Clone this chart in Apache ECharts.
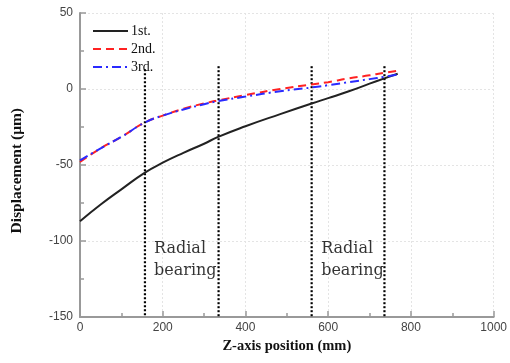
<!DOCTYPE html>
<html><head><meta charset="utf-8">
<script src="https://cdn.jsdelivr.net/npm/echarts@6/dist/echarts.min.js"></script>
<style>html,body{margin:0;padding:0;background:#fff}#c{width:510px;height:363px}</style>
</head><body><div id="c"></div>
<script>
var positions = [0, 50, 100, 157, 200, 250, 300, 334, 400, 484, 560, 600, 650, 700, 736, 768];
var first  = [-87, -76, -66, -55, -48.5, -42, -36, -31.5, -24.5, -16.5, -9.5, -6, -1.5, 3.5, 7, 10];
var second = [-48, -39, -31.5, -22, -17.5, -13, -9.5, -7.5, -4, 0, 3, 4.5, 7, 9, 10.7, 12];
var third  = [-47, -39, -31.5, -22, -17.5, -13.5, -10, -8, -5, -1.5, 1, 2.5, 4.5, 6.5, 8, 9.5];
var seriesNames = ['1st.', '2nd.', '3rd.'];
var bearingX = [157, 335, 560, 736];
var bearingTop = [13, 15, 15, 15];
var bearingBottom = -150;
var labelPoints = [[179, -98], [583, -98]];
var labelText = 'Radial\nbearing';
var xTitle = 'Z-axis position (mm)';
var yTitle = 'Displacement (μm)';

function pairs(xs, ys){ return xs.map(function(x,i){ return [x, ys[i]]; }); }

var series = [
  {name: seriesNames[0], type:'line', data: pairs(positions, first), smooth:true, symbol:'none',
   lineStyle:{color:'#222', width:2, type:'solid'}, itemStyle:{color:'#222'}, z:5},
  {name: seriesNames[1], type:'line', data: pairs(positions, second), smooth:true, symbol:'none',
   lineStyle:{color:'#ff2222', width:2, type:[8,5]}, itemStyle:{color:'#ff2222'}, z:5},
  {name: seriesNames[2], type:'line', data: pairs(positions, third), smooth:true, symbol:'none',
   lineStyle:{color:'#2a2aff', width:2, type:[9,4,2,4]}, itemStyle:{color:'#2a2aff'}, z:6}
];
bearingX.forEach(function(x, i){
  series.push({type:'line', data:[[x, bearingTop[i]], [x, bearingBottom]], symbol:'none', silent:true,
    lineStyle:{color:'#000', width:2.2, type:[2,2]}, z:4});
});
series.push({type:'scatter', data: labelPoints, symbolSize:0, silent:true,
  label:{show:true, formatter: labelText, position:[0,0], align:'left', verticalAlign:'top',
    fontFamily:'DejaVu Serif', fontSize:16, lineHeight:22, color:'#000'}});

var chart = echarts.init(document.getElementById('c'), null, {renderer:'canvas'});
chart.setOption({
  animation:false,
  backgroundColor:'#fff',
  grid:{left:80, right:16, top:13, bottom:46},
  legend:{data: seriesNames,
    orient:'vertical', left:87, top:19, itemWidth:35, itemHeight:14, itemGap:4,
    itemStyle:{opacity:0, borderWidth:0},
    textStyle:{fontFamily:'Liberation Serif', fontSize:14, color:'#111', padding:[0,0,0,-2]}},
  graphic:[{type:'text', left:9, top:108, rotation:Math.PI/2,
    style:{text:yTitle, font:'bold 15.5px "Liberation Serif"', fill:'#111'}}],
  xAxis:{type:'value', min:0, max:1000, interval:200,
    name:xTitle, nameLocation:'middle', nameGap:21,
    nameTextStyle:{fontFamily:'Liberation Serif', fontWeight:'bold', fontSize:14.5, color:'#111'},
    axisLine:{onZero:false, lineStyle:{color:'#999', width:2}},
    axisTick:{inside:true, length:6, lineStyle:{color:'#999', width:1.5}},
    minorTick:{show:true, splitNumber:2, length:4, lineStyle:{color:'#999', width:1.5}},
    splitLine:{show:true, lineStyle:{color:'#e4e4e4', type:[2,2], width:1}},
    axisLabel:{fontFamily:'Liberation Sans', fontSize:12, color:'#444', margin:5,
      formatter:function(v){ return String(v); }}},
  yAxis:{type:'value', min:-150, max:50, interval:50,
    axisLine:{show:true, onZero:false, lineStyle:{color:'#999', width:2}},
    axisTick:{show:true, inside:true, length:6, lineStyle:{color:'#999', width:1.5}},
    minorTick:{show:true, splitNumber:2, length:4, lineStyle:{color:'#999', width:1.5}},
    splitLine:{show:true, lineStyle:{color:'#e4e4e4', type:[2,2], width:1}},
    axisLabel:{fontFamily:'Liberation Sans', fontSize:12, color:'#444', margin:7}},
  series: series
});
</script></body></html>
